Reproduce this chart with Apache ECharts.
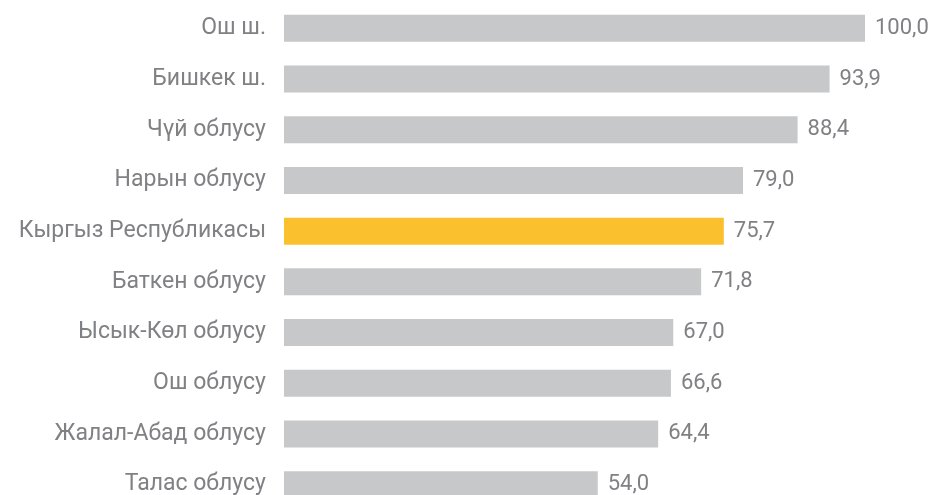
<!DOCTYPE html>
<html><head><meta charset="utf-8">
<script src="https://cdn.jsdelivr.net/npm/echarts@6/dist/echarts.min.js"></script>
<style>html,body{margin:0;padding:0;background:#fff}#c{width:931px;height:495px}</style>
</head><body><div id="c"></div>
<script>
const categories = ["Ош ш.","Бишкек ш.","Чүй облусу","Нарын облусу","Кыргыз Республикасы","Баткен облусу","Ысык-Көл облусу","Ош облусу","Жалал-Абад облусу","Талас облусу"];
const values = [100.0,93.9,88.4,79.0,75.7,71.8,67.0,66.6,64.4,54.0];
const highlight = "Кыргыз Республикасы";
const font = "Roboto, sans-serif";
const chart = echarts.init(document.getElementById('c'));
chart.setOption({
  animation:false,
  grid:{left:284,width:581,top:3,height:507,containLabel:false,outerBoundsMode:'none'},
  xAxis:{type:'value',min:0,max:100,show:false},
  yAxis:{type:'category',inverse:true,data:categories,
    axisLine:{show:false},axisTick:{show:false},
    axisLabel:{margin:18,color:'#808184',fontSize:23,fontFamily:font}},
  series:[{type:'bar',barWidth:27,
    data:values.map((v,i)=>({value:v,itemStyle:{color:categories[i]===highlight?'#fbc02d':'#c7c8ca'}})),
    label:{show:true,position:'right',distance:10,color:'#808184',fontSize:22,fontFamily:font,
      formatter:p=>p.value.toFixed(1).replace('.',',')}
  }]
});
</script></body></html>
